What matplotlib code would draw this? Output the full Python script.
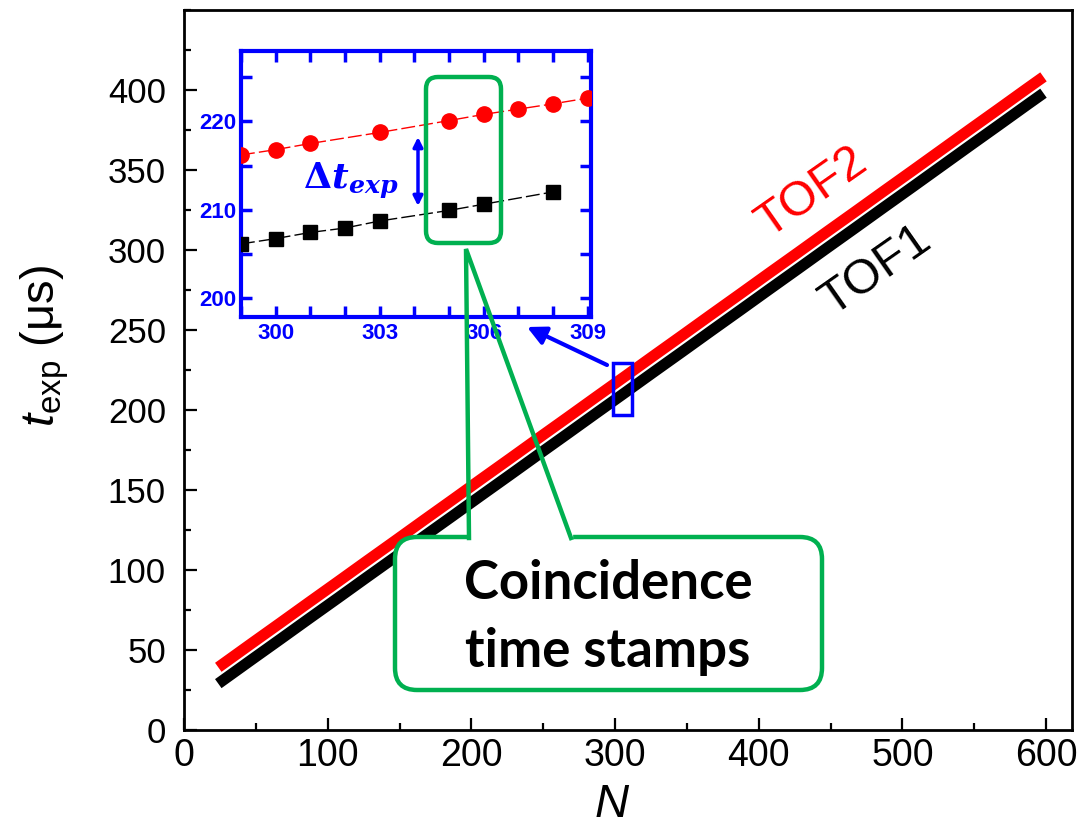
import matplotlib
matplotlib.use('Agg')
import matplotlib.pyplot as plt
from matplotlib.patches import FancyBboxPatch, Rectangle
from matplotlib.lines import Line2D
from matplotlib.ticker import MultipleLocator
from matplotlib.transforms import IdentityTransform

# donnees (temps en microsecondes)
n_main = [27, 47, 67, 87, 107, 127, 147, 167, 187, 207, 227, 247, 267, 287, 307,
          327, 347, 367, 387, 407, 427, 447, 467, 487, 507, 527, 547, 567, 587, 595]
tof1_main = [31.0, 43.9, 56.7, 69.6, 82.4, 95.3, 108.1, 121.0, 133.8, 146.7,
             159.5, 172.4, 185.2, 198.1, 210.9, 223.8, 236.6, 249.5, 262.3, 275.2,
             288.0, 300.9, 313.7, 326.6, 339.4, 352.3, 365.2, 378.0, 390.9, 396.0]
tof2_main = [41.2, 54.1, 66.9, 79.8, 92.6, 105.5, 118.3, 131.2, 144.0, 156.9,
             169.7, 182.6, 195.4, 208.3, 221.1, 234.0, 246.8, 259.7, 272.5, 285.4,
             298.2, 311.1, 323.9, 336.8, 349.6, 362.5, 375.4, 388.2, 401.1, 406.2]

# zoom (encart)
n_tof1_zoom = [299, 300, 301, 302, 303, 305, 306, 308]
tof1_zoom = [206.1, 206.7, 207.4, 207.9, 208.7, 209.9, 210.6, 212.0]
n_tof2_zoom = [299, 300, 301, 303, 305, 306, 307, 308, 309]
tof2_zoom = [216.2, 216.8, 217.5, 218.75, 220.1, 220.8, 221.4, 222.0, 222.65]

x_ticks = [0, 100, 200, 300, 400, 500, 600]
y_ticks = [0, 50, 100, 150, 200, 250, 300, 350, 400]
x_ticks_zoom = [300, 303, 306, 309]
y_ticks_zoom = [200, 210, 220]

W, H = 1088, 836
GREEN = '#00B050'
BLUE = '#0000FF'


def P(x, y):
    # coordonnees image (origine en haut) -> pixels figure
    return (x, H - y)


plt.rcParams['font.family'] = ['Liberation Sans', 'DejaVu Sans']
plt.rcParams['mathtext.fontset'] = 'custom'
plt.rcParams['mathtext.it'] = 'Liberation Sans:italic'
plt.rcParams['mathtext.rm'] = 'Liberation Sans'
plt.rcParams['mathtext.bf'] = 'DejaVu Serif:italic:bold'
plt.rcParams['mathtext.sf'] = 'DejaVu Serif:bold'

fig = plt.figure(figsize=(W / 100, H / 100), dpi=100)

# ---------------- axe principal ----------------
ax = fig.add_axes([184 / W, 1 - 730 / H, (1072 - 184) / W, (730 - 10) / H])
ax.plot(n_main, tof1_main, color='black', lw=8, solid_capstyle='projecting',
        zorder=3)
ax.plot(n_main, tof2_main, color='red', lw=8, solid_capstyle='projecting',
        zorder=4)

ax.set_xlim(0, 618)
ax.set_ylim(0, 450)
ax.set_xticks(x_ticks)
ax.set_yticks(y_ticks)
ax.xaxis.set_minor_locator(MultipleLocator(50))
ax.yaxis.set_minor_locator(MultipleLocator(25))
ax.tick_params(which='both', direction='in', top=False, right=False, width=1.6)
ax.tick_params(which='major', length=9)
ax.tick_params(which='minor', length=5)
ax.tick_params(axis='x', labelsize=27, pad=6)
ax.tick_params(axis='y', labelsize=25, pad=13)
for s in ax.spines.values():
    s.set_linewidth(2)

ax.set_xlabel('$N$', fontsize=34)
ax.xaxis.set_label_coords(0.482, -0.073)
ax.set_ylabel(r'$t_{\mathrm{exp}}$ (μs)', fontsize=34)
ax.yaxis.label.set_va('center')
ax.yaxis.label.set_ha('center')
ax.yaxis.set_label_coords(-0.1565, 0.534)

ax.text(812, H - 192, 'TOF2', transform=IdentityTransform(), color='red',
        fontsize=35, rotation=35, rotation_mode='anchor', ha='center', va='center')
ax.text(876, H - 270, 'TOF1', transform=IdentityTransform(), color='black',
        fontsize=35, rotation=35, rotation_mode='anchor', ha='center', va='center')

# petit cadre bleu autour de la zone zoomee
ax.add_patch(Rectangle((298.5, 197), 13, 32.5, fill=False, edgecolor=BLUE,
                       lw=2.5, zorder=6))
ax.annotate('', xy=P(527, 327), xytext=P(607, 365),
            xycoords='figure pixels', textcoords='figure pixels',
            arrowprops=dict(arrowstyle='-|>', color=BLUE, lw=3,
                            mutation_scale=28, shrinkA=0, shrinkB=0))

# ---------------- encart ----------------
axins = fig.add_axes([241 / W, 1 - 317 / H, 350 / W, 266 / H])
axins.plot(n_tof1_zoom, tof1_zoom, color='black', ls=(0, (10, 3)), lw=1,
           marker='s', ms=10, zorder=3)
axins.plot(n_tof2_zoom, tof2_zoom, color='red', ls=(0, (10, 3)), lw=1,
           marker='o', ms=11, zorder=4)
axins.set_xlim(299, 309.1)
axins.set_ylim(197.8, 228)
axins.set_xticks(x_ticks_zoom)
axins.set_yticks(y_ticks_zoom)
axins.xaxis.set_minor_locator(MultipleLocator(1))
axins.yaxis.set_minor_locator(MultipleLocator(5))
axins.tick_params(which='both', direction='in', top=True, right=True,
                  color=BLUE, width=2.5, length=8, labelcolor=BLUE,
                  labelsize=16)
axins.tick_params(axis='x', pad=4)
axins.tick_params(axis='y', pad=3)
for lab in axins.get_xticklabels() + axins.get_yticklabels():
    lab.set_fontweight('bold')
for s in axins.spines.values():
    s.set_linewidth(3)
    s.set_color(BLUE)

# fleche double et Delta t
axins.annotate('', xy=P(418, 137), xytext=P(418, 206),
               xycoords='figure pixels', textcoords='figure pixels',
               arrowprops=dict(arrowstyle='<|-|>', color=BLUE, lw=2.5,
                               mutation_scale=14, shrinkA=0, shrinkB=0))
fig.text(303, H - 189, r'$\mathsf{\Delta}\mathbf{t_{exp}}$',
         transform=IdentityTransform(), color=BLUE, fontsize=26,
         ha='left', va='baseline')

# cadre vert dans l'encart
fig.add_artist(FancyBboxPatch(P(426, 243), 75, 166,
                              boxstyle='round,pad=0,rounding_size=12',
                              transform=IdentityTransform(), fill=False,
                              edgecolor=GREEN, lw=3.2, zorder=20))

# bulle "Coincidence time stamps"
fig.add_artist(FancyBboxPatch(P(395, 690), 427, 153,
                              boxstyle='round,pad=0,rounding_size=22',
                              transform=IdentityTransform(), facecolor='white',
                              edgecolor=GREEN, lw=3.2, zorder=20))
x0, y0 = P(469, 537)
x1, y1 = P(571, 537)
fig.add_artist(Line2D([x0 + 1.5, x1 - 1.5], [y0, y0], color='white', lw=4.5,
                      transform=IdentityTransform(), zorder=21))
xa, ya = P(466, 249)
fig.add_artist(Line2D([x0, xa, x1], [y0 - 1, ya, y1 - 1], color=GREEN, lw=3.2,
                      transform=IdentityTransform(), zorder=22,
                      solid_joinstyle='miter'))
for line, yb in [('Coincidence', 599), ('time stamps', 667)]:
    fig.text(608, H - yb, line, transform=IdentityTransform(),
             family=['Lato', 'DejaVu Sans'], fontweight='bold', fontsize=38,
             ha='center', va='baseline', zorder=23)

fig.savefig('out.png', dpi=100)
